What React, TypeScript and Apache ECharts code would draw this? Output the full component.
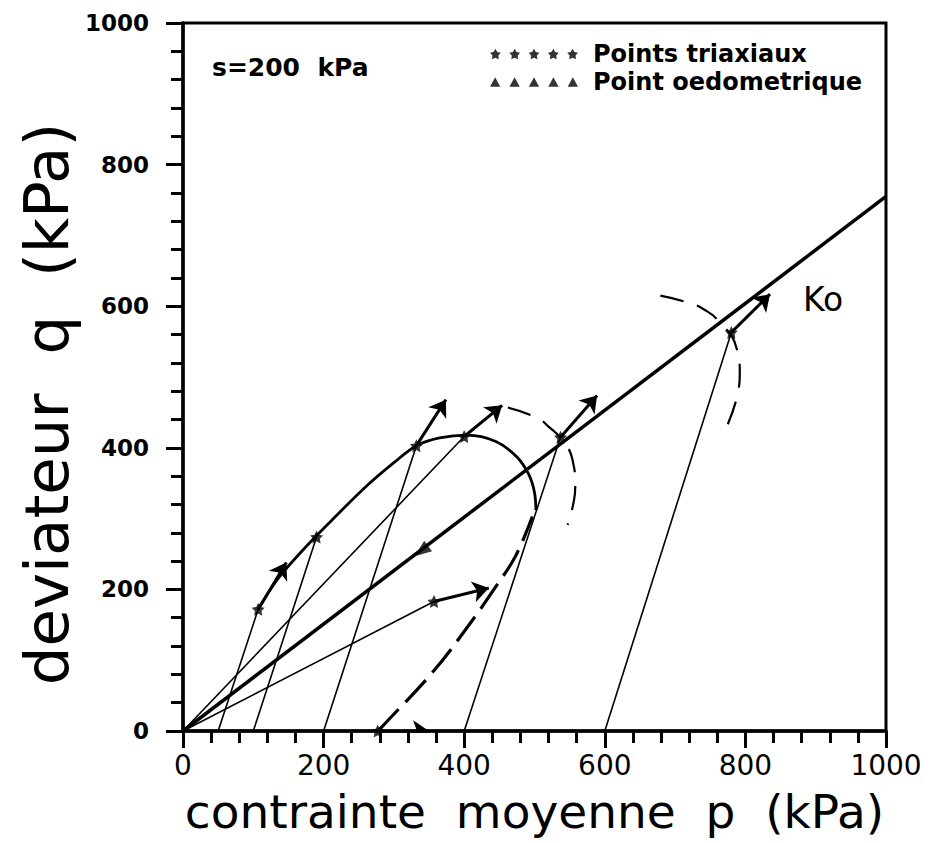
import React, { useEffect, useRef } from "react";
import * as echarts from "echarts";

// ---------- data (kPa) ----------
const pTicks = [0, 200, 400, 600, 800, 1000];
const qTicks = [0, 200, 400, 600, 800, 1000];

// Ko line (thick) from origin
const koLine: number[][] = [[0, 0], [1000, 755]];

// triaxial / radial stress paths (thin): [p0, q0, p1, q1]
const thinPaths: number[][] = [
  [50, 0, 107, 172],
  [100, 0, 190, 274],
  [200, 0, 332, 403],
  [400, 0, 537, 415],
  [600, 0, 780, 563],
  [0, 0, 400, 416],
  [0, 0, 357, 183],
];

// arrows (thick): [p0, q0, p1, q1]
const arrows: number[][] = [
  [107, 172, 147, 238],
  [332, 403, 374, 468],
  [400, 416, 454, 460],
  [537, 415, 589, 474],
  [780, 563, 835, 617],
  [357, 183, 435, 202],
  [277, 0, 350, 0],
];

// triaxial points (stars)
const triaxPoints: number[][] = [
  [107, 172], [190, 274], [332, 403], [400, 416], [537, 415], [780, 563], [357, 183], [277, 0],
];

// oedometric point (triangle on Ko line)
const oedoPoints: number[][] = [[339, 254]];

// yield curve, solid part
const yieldSolid: number[][] = [
  [107, 172], [135, 215], [170, 255], [210, 296], [260, 345], [300, 379], [332, 403],
  [365, 414], [404, 418], [445, 409], [475, 387], [492, 362], [500, 337], [502, 312],
];
// yield curve, dashed thick part
const yieldDashed: number[][] = [
  [277, 0], [284, 7], [355, 83], [407, 150], [445, 204], [473, 247], [497, 303],
];
// dashed arc around Ko point at 537 kPa
const arcMiddle: number[][] = [
  [462, 457], [502, 443], [520, 430], [540, 410], [554, 383], [558, 345], [555, 320], [547, 291],
];
// dashed arc around Ko point at 780 kPa
const arcOuter: number[][] = [
  [679, 615], [719, 605], [740, 596], [762, 579], [787, 542], [792, 504], [790, 481], [773, 429],
];

// ---------- symbols ----------
function starD(cx: number, cy: number, R: number, r: number): string {
  let d = "";
  for (let i = 0; i < 10; i++) {
    const a = -Math.PI / 2 + (i * Math.PI) / 5;
    const rad = i % 2 ? r : R;
    d += (i ? "L" : "M") + (cx + rad * Math.cos(a)).toFixed(2) + " " + (cy + rad * Math.sin(a)).toFixed(2) + " ";
  }
  return d + "Z";
}
const starPath = "path://" + starD(10, 10, 10, 5);
const fiveStars = "path://" + [0, 1, 2, 3, 4].map((i) => starD(10 + i * 34, 10, 10, 5.5)).join(" ");
const fiveTris =
  "path://" + [0, 1, 2, 3, 4].map((i) => `M${i * 34 + 1} 19 L${i * 34 + 10} 2 L${i * 34 + 19} 19 Z`).join(" ");

const FONT = "DejaVu Sans";

export default function App() {
  const ref = useRef<HTMLDivElement>(null);
  useEffect(() => {
    if (!ref.current) return;
    const chart = echarts.init(ref.current, null, { renderer: "svg" });
    const axisCommon = {
      type: "value" as const,
      min: 0,
      max: 1000,
      interval: 200,
      axisLine: { show: true, onZero: false, lineStyle: { color: "#000", width: 3.5 } },
      axisTick: { show: true, length: 17, lineStyle: { color: "#000", width: 3 } },
      minorTick: { show: true, splitNumber: 5, length: 12, lineStyle: { color: "#000", width: 3 } },
      splitLine: { show: false },
      minorSplitLine: { show: false },
    };
    chart.setOption({
      animation: false,
      backgroundColor: "#fff",
      grid: { left: 183, right: 46, top: 23, bottom: 112, show: true, borderColor: "#000", borderWidth: 3 },
      legend: {
        orient: "vertical",
        left: 485,
        top: 37,
        itemWidth: 88,
        itemHeight: 11,
        itemGap: 4,
        selectedMode: false,
        textStyle: { fontFamily: FONT, fontSize: 24, fontWeight: "bold", color: "#000", padding: [0, 0, 0, 10] },
        data: [
          { name: "Points triaxiaux", icon: fiveStars },
          { name: "Point oedometrique", icon: fiveTris },
        ],
      },
      xAxis: {
        ...axisCommon,
        name: "contrainte  moyenne  p  (kPa)",
        nameLocation: "middle",
        nameGap: 57,
        nameTextStyle: { fontFamily: FONT, fontSize: 47, color: "#000" },
        axisLabel: {
          margin: 20,
          fontFamily: FONT,
          fontSize: 28,
          color: "#000",
          formatter: (v: number) => (pTicks.includes(v) ? String(v) : ""),
        },
      },
      yAxis: {
        ...axisCommon,
        axisLabel: {
          margin: 34,
          fontFamily: FONT,
          fontSize: 23,
          fontWeight: "bold",
          color: "#000",
          formatter: (v: number) => (qTicks.includes(v) ? String(v) : ""),
        },
      },
      graphic: [
        {
          type: "text",
          x: 46,
          y: 404,
          rotation: Math.PI / 2,
          style: {
            text: "deviateur  q  (kPa)",
            font: `61px "${FONT}"`,
            fill: "#000",
            align: "center",
            verticalAlign: "middle",
          },
        },
        {
          type: "text",
          left: 212,
          top: 55,
          style: { text: "s=200  kPa", font: `bold 25px "${FONT}"`, fill: "#000" },
        },
        {
          type: "text",
          left: 803,
          top: 283,
          style: { text: "Ko", font: `33px "${FONT}"`, fill: "#000" },
        },
      ],
      series: [
        {
          name: "Ko",
          type: "line",
          data: koLine,
          showSymbol: false,
          lineStyle: { color: "#000", width: 3.5 },
          z: 3,
        },
        {
          name: "chemins",
          type: "lines",
          coordinateSystem: "cartesian2d",
          data: thinPaths.map((a) => ({ coords: [[a[0], a[1]], [a[2], a[3]]] })),
          lineStyle: { color: "#000", width: 1.6, opacity: 1 },
          symbol: ["none", "none"],
          z: 2,
        },
        {
          name: "surface de charge",
          type: "line",
          data: yieldSolid,
          smooth: 0.35,
          showSymbol: false,
          lineStyle: { color: "#000", width: 2.8 },
          z: 2,
        },
        {
          name: "surface de charge (tirets)",
          type: "line",
          data: yieldDashed,
          smooth: 0.4,
          showSymbol: false,
          lineStyle: { color: "#000", width: 3.2, type: [30, 10] },
          z: 2,
        },
        {
          name: "arc 537",
          type: "line",
          data: arcMiddle,
          smooth: 0.5,
          showSymbol: false,
          lineStyle: { color: "#000", width: 2.2, type: [24, 14] },
          z: 2,
        },
        {
          name: "arc 780",
          type: "line",
          data: arcOuter,
          smooth: 0.5,
          showSymbol: false,
          lineStyle: { color: "#000", width: 2.2, type: [24, 14] },
          z: 2,
        },
        {
          name: "fleches",
          type: "lines",
          coordinateSystem: "cartesian2d",
          data: arrows.map((a) => ({ coords: [[a[0], a[1]], [a[2], a[3]]] })),
          lineStyle: { color: "#000", width: 3, opacity: 1 },
          symbol: ["none", "arrow"],
          symbolSize: 16,
          itemStyle: { color: "#000" },
          z: 4,
        },
        {
          name: "Points triaxiaux",
          type: "scatter",
          data: triaxPoints,
          symbol: starPath,
          symbolSize: 13,
          itemStyle: { color: "#000" },
          z: 5,
        },
        {
          name: "Point oedometrique",
          type: "scatter",
          data: oedoPoints,
          symbol: "triangle",
          symbolSize: [13, 17],
          symbolRotate: 127,
          itemStyle: { color: "#000" },
          z: 5,
        },
      ],
    });
    return () => chart.dispose();
  }, []);
  return (
    <div
      ref={ref}
      style={{ position: "fixed", left: 0, top: 0, width: 932, height: 843, background: "#fff" }}
    />
  );
}
